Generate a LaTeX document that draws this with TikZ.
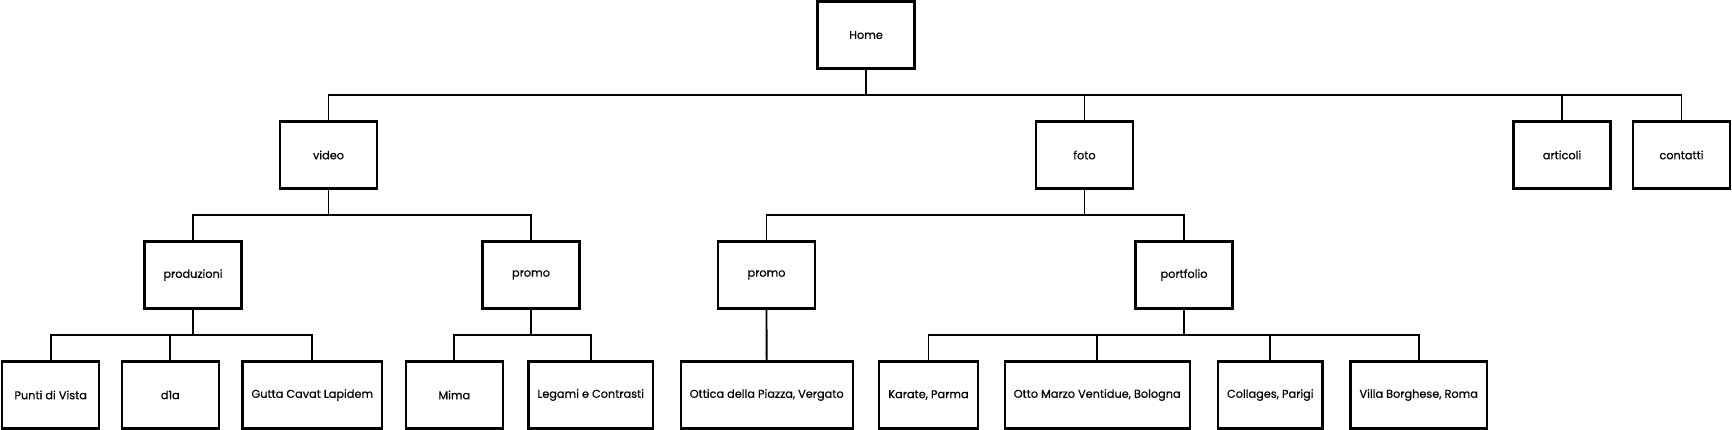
\documentclass[tikz,border=0pt]{standalone}
\usepackage{fontspec}
\setmainfont{Poppins}
\newfontfamily\pagefont{Poppins}[FakeBold=0.5]
\usepackage{tikz}

\tikzset{
  page/.style={draw, line width=2.2pt, minimum width=97pt, minimum height=67pt,
    inner xsep=9pt, font=\pagefont\fontsize{11.3}{13}\selectfont},
  link/.style={line width=1.8pt}
}

\begin{document}
\begin{tikzpicture}[x=1pt,y=-1pt]
          \useasboundingbox (0,0) rectangle (1732,430);

          \node[page] (home) at (866,35) {Home};

          \node[page] (video) at (328.5,155) {video};
          \node[page] (foto) at (1084.5,155) {foto};
          \node[page] (articoli) at (1562,155) {articoli};
          \node[page] (contatti) at (1681.5,155) {contatti};

          \node[page] (produzioni) at (193,275) {produzioni};
          \node[page] (vpromo) at (531,275) {promo};
          \node[page] (fpromo) at (766.5,275) {promo};
          \node[page] (portfolio) at (1184,275) {portfolio};

          \node[page] (punti) at (50.7,395) {Punti di Vista};
          \node[page] (d1a) at (170.3,395) {d1a};
          \node[page] (gutta) at (312.3,395) {Gutta Cavat Lapidem};
          \node[page] (mima) at (454.3,395) {Mima};
          \node[page] (legami) at (590.7,395) {Legami e Contrasti};
          \node[page] (ottica) at (766.7,395) {Ottica della Piazza, Vergato};
          \node[page] (karate) at (928.5,395) {Karate, Parma};
          \node[page] (otto) at (1097.2,395) {Otto Marzo Ventidue, Bologna};
          \node[page] (collages) at (1270.3,395) {Collages, Parigi};
          \node[page] (villa) at (1418.7,395) {Villa Borghese, Roma};

          \coordinate (homebus) at (866,95);
          \coordinate (videobus) at (328.5,215);
          \coordinate (fotobus) at (1084.5,215);
          \coordinate (produzionibus) at (193,335);
          \coordinate (vpromobus) at (531,335);
          \coordinate (portfoliobus) at (1184,335);

          \draw[link] (home) -- (homebus);
          \draw[link] (video.north) |- (homebus);
          \draw[link] (foto.north) |- (homebus);
          \draw[link] (articoli.north) |- (homebus);
          \draw[link] (contatti.north) |- (homebus);

          \draw[link] (video) -- (videobus);
          \draw[link] (produzioni.north) |- (videobus);
          \draw[link] (vpromo.north) |- (videobus);

          \draw[link] (foto) -- (fotobus);
          \draw[link] (fpromo.north) |- (fotobus);
          \draw[link] (portfolio.north) |- (fotobus);

          \draw[link] (produzioni) -- (produzionibus);
          \draw[link] (punti.north) |- (produzionibus);
          \draw[link] (d1a.north) |- (produzionibus);
          \draw[link] (gutta.north) |- (produzionibus);

          \draw[link] (vpromo) -- (vpromobus);
          \draw[link] (mima.north) |- (vpromobus);
          \draw[link] (legami.north) |- (vpromobus);

          \draw[link] (fpromo) -- (ottica);

          \draw[link] (portfolio) -- (portfoliobus);
          \draw[link] (karate.north) |- (portfoliobus);
          \draw[link] (otto.north) |- (portfoliobus);
          \draw[link] (collages.north) |- (portfoliobus);
          \draw[link] (villa.north) |- (portfoliobus);
        \end{tikzpicture}
\end{document}
